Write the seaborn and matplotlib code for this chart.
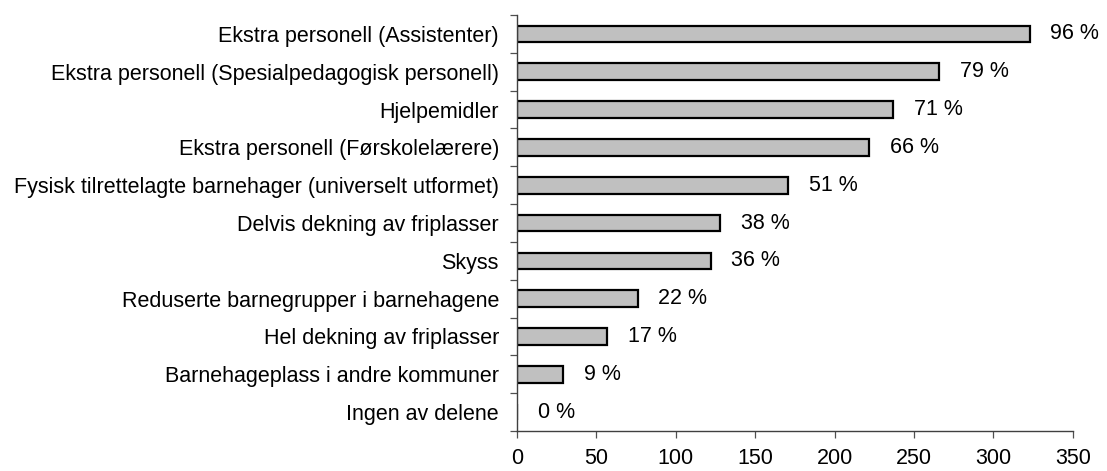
import matplotlib
matplotlib.use("Agg")
import matplotlib.pyplot as plt
import numpy as np
import pandas as pd
import seaborn as sns

categories = [
    "Ekstra personell (Assistenter)",
    "Ekstra personell (Spesialpedagogisk personell)",
    "Hjelpemidler",
    "Ekstra personell (Førskolelærere)",
    "Fysisk tilrettelagte barnehager (universelt utformet)",
    "Delvis dekning av friplasser",
    "Skyss",
    "Reduserte barnegrupper i barnehagene",
    "Hel dekning av friplasser",
    "Barnehageplass i andre kommuner",
    "Ingen av delene",
]
counts = [323, 266, 237, 222, 171, 128, 122, 76, 57, 29, 0]
percent_labels = ["96 %", "79 %", "71 %", "66 %", "51 %", "38 %", "36 %",
                  "22 %", "17 %", "9 %", "0 %"]
x_ticks = [0, 50, 100, 150, 200, 250, 300, 350]


def main() -> None:
    sns.set_theme(style="white")
    plt.rcParams["font.family"] = ["Liberation Sans", "DejaVu Sans"]
    plt.rcParams["text.color"] = "black"
    plt.rcParams["xtick.color"] = "black"
    plt.rcParams["ytick.color"] = "black"

    fs = 15.5
    df = pd.DataFrame({"kategori": categories, "antall": counts})

    fig = plt.figure(figsize=(11.07, 4.71), dpi=100)
    ax = fig.add_axes([0.467, 0.085, 0.502, 0.883])

    sns.barplot(
        data=df, x="antall", y="kategori", orient="h",
        color="#c0c0c0", edgecolor="black", linewidth=1.6,
        width=0.44, saturation=1, ax=ax,
    )

    for i, (v, lab) in enumerate(zip(counts, percent_labels)):
        ax.text(v + 13, i, lab, va="center", ha="left", fontsize=fs,
                color="black")

    ax.set_xlim(0, 350)
    ax.set_ylim(len(categories) - 0.5, -0.5)
    ax.set_xticks(x_ticks)
    ax.set_xlabel("")
    ax.set_ylabel("")

    # Excel-style: y ticks sit between categories
    ax.set_yticks(np.arange(len(categories) + 1) - 0.5, minor=True)
    ax.tick_params(axis="y", which="major", length=0, pad=13, labelsize=fs)
    ax.tick_params(axis="y", which="minor", length=5, width=0.9,
                   color="#505050", direction="out", left=True)
    ax.tick_params(axis="x", length=5, width=0.9, color="#505050",
                   direction="out", bottom=True, labelsize=fs, pad=7)

    for side in ("top", "right"):
        ax.spines[side].set_visible(False)
    for side in ("left", "bottom"):
        ax.spines[side].set_color("#404040")
        ax.spines[side].set_linewidth(1.0)

    fig.savefig("out.png", dpi=100, facecolor="white")


if __name__ == "__main__":
    main()
